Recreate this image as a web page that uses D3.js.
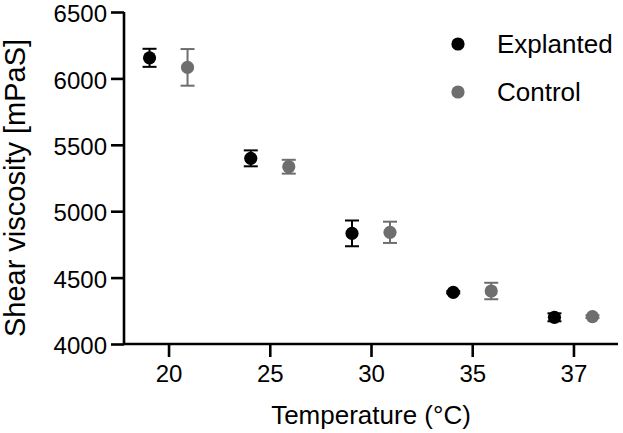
<!DOCTYPE html>
<html>
<head>
<meta charset="utf-8">
<script src="https://cdn.jsdelivr.net/npm/d3@7/dist/d3.min.js"></script>
<style>
  html, body { margin: 0; padding: 0; background: #fff; }
  text { font-family: "Liberation Sans", Arial, sans-serif; fill: #000; }
</style>
</head>
<body>
<svg id="chart" width="623" height="433"></svg>
<script>
const categories = ["20", "25", "30", "35", "37"];
const explantedMean = [6155, 5398, 4833, 4389, 4201];
const explantedErr  = [68, 60, 97, 8, 30];
const controlMean   = [6083, 5335, 4841, 4399, 4206];
const controlErr    = [138, 52, 80, 62, 10];
const yTicks = [4000, 4500, 5000, 5500, 6000, 6500];
const seriesNames = ["Explanted", "Control"];
const seriesColors = ["#000000", "#6e6e6e"];

const svg = d3.select("#chart");
const plotL = 124, plotR = 618, plotT = 12, plotB = 344;

const x = d3.scalePoint().domain(categories).range([plotL, plotR]).padding(0.44);
const y = d3.scaleLinear().domain([4000, 6500]).range([plotB, plotT]);

// Axes
const yAxis = svg.append("g").attr("transform", `translate(${plotL},0)`)
  .call(d3.axisLeft(y).tickValues(yTicks).tickSize(13).tickPadding(4).tickFormat(d3.format("d")));
const xAxis = svg.append("g").attr("transform", `translate(0,${plotB})`)
  .call(d3.axisBottom(x).tickSize(13).tickPadding(8));
[yAxis, xAxis].forEach(g => {
  g.selectAll(".domain").attr("stroke", "#000").attr("stroke-width", 2.6);
  g.selectAll(".tick line").attr("stroke", "#000").attr("stroke-width", 2.6);
  g.selectAll(".tick text").style("font-size", "24px").attr("fill", "#000");
});
xAxis.select(".domain").attr("d", `M${plotL},0H${plotR}`);
yAxis.select(".domain").attr("d", `M0,${plotT}V${plotB}`);
yAxis.selectAll(".tick text").attr("dy", "0.4em");

// Data series
const series = [
  { name: seriesNames[0], mean: explantedMean, err: explantedErr, color: seriesColors[0], off: -19 },
  { name: seriesNames[1], mean: controlMean, err: controlErr, color: seriesColors[1], off: 19 }
];
const capHalf = 7;
series.forEach(s => {
  const g = svg.append("g");
  categories.forEach((c, i) => {
    const cx = x(c) + s.off;
    const y0 = y(s.mean[i] - s.err[i]), y1 = y(s.mean[i] + s.err[i]);
    g.append("line").attr("x1", cx).attr("x2", cx).attr("y1", y0).attr("y2", y1)
      .attr("stroke", s.color).attr("stroke-width", 2);
    [y0, y1].forEach(yy => g.append("line").attr("x1", cx - capHalf).attr("x2", cx + capHalf)
      .attr("y1", yy).attr("y2", yy).attr("stroke", s.color).attr("stroke-width", 2));
    g.append("circle").attr("cx", cx).attr("cy", y(s.mean[i])).attr("r", 6.6).attr("fill", s.color);
  });
});

// Legend
series.forEach((s, i) => {
  const ly = 44 + i * 48;
  svg.append("circle").attr("cx", 458).attr("cy", ly).attr("r", 6.6).attr("fill", s.color);
  svg.append("text").attr("x", 497).attr("y", ly).attr("dy", "0.36em")
    .style("font-size", "26px").text(s.name);
});

// Axis titles
svg.append("text").attr("x", (plotL + plotR) / 2).attr("y", 424).attr("text-anchor", "middle")
  .style("font-size", "26px").text("Temperature (°C)");
svg.append("text").attr("transform", `translate(25,${(plotT + plotB) / 2 + 10}) rotate(-90)`)
  .attr("text-anchor", "middle").style("font-size", "29px").text("Shear viscosity [mPaS]");
</script>
</body>
</html>
